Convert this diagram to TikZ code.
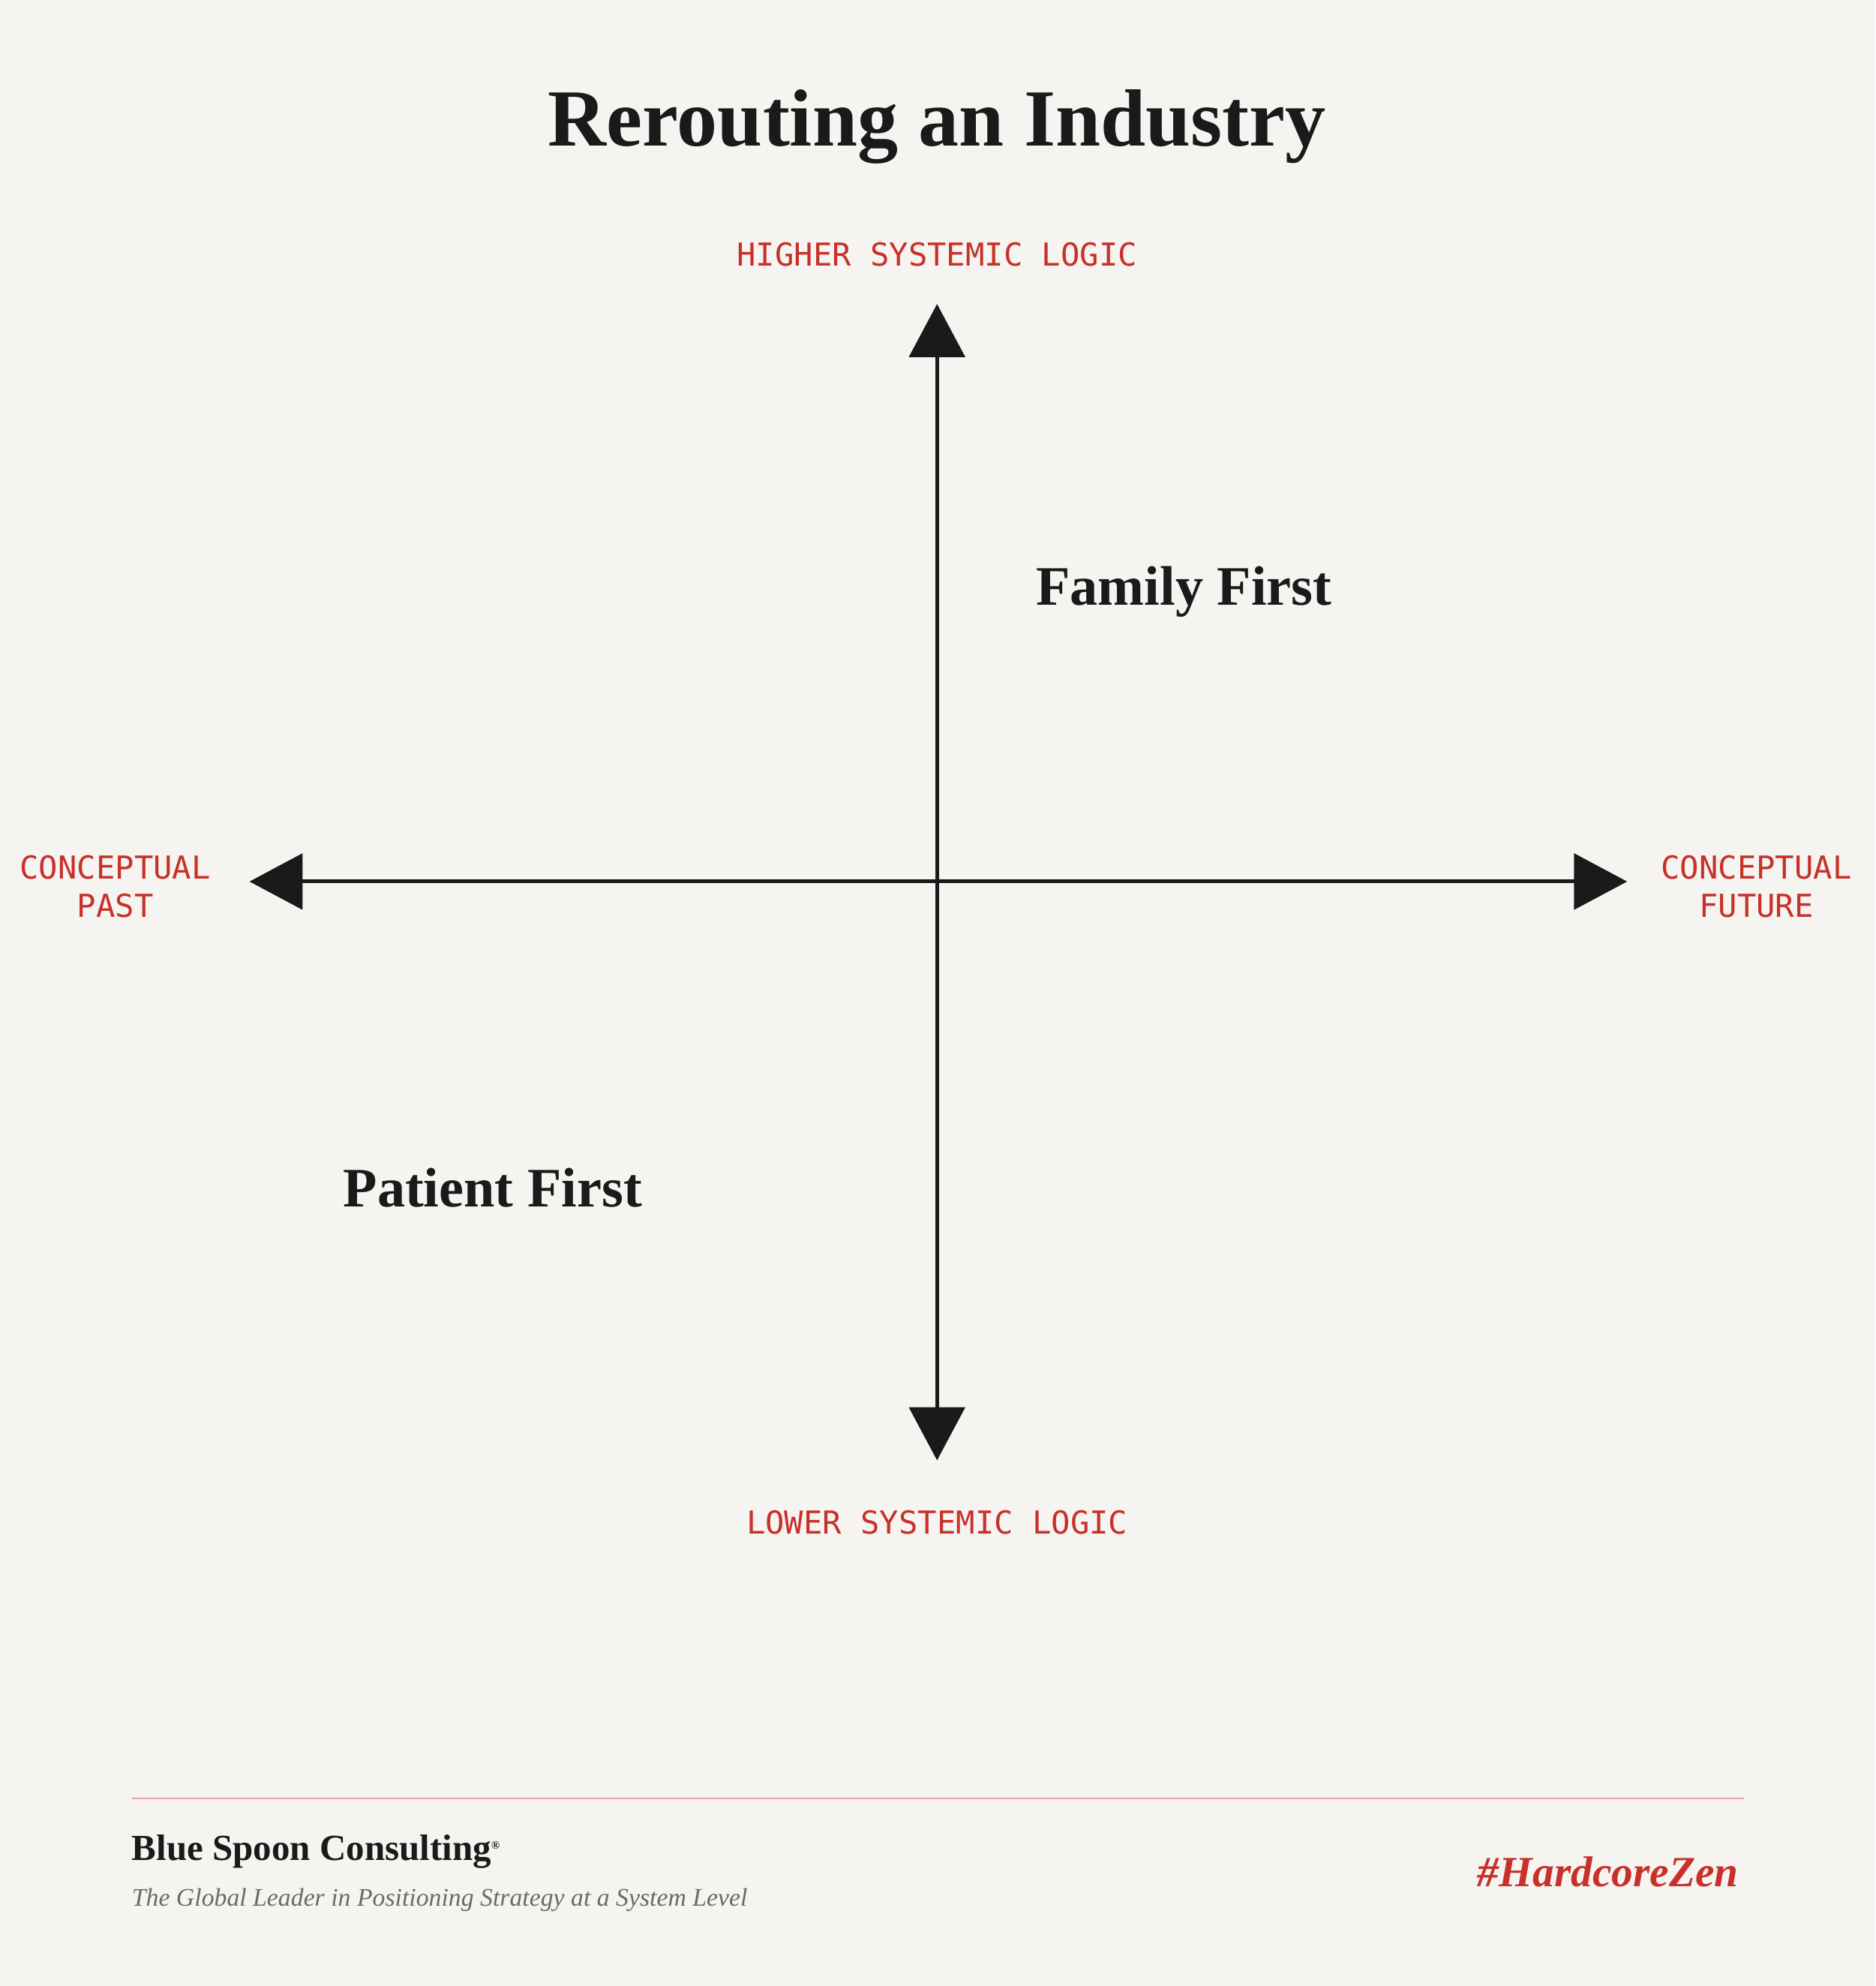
\documentclass[tikz,border=0pt]{standalone}
\usepackage{fontspec}
\setmainfont{Liberation Serif}
\setmonofont{DejaVu Sans Mono}
\usetikzlibrary{arrows.meta}
\definecolor{bg}{HTML}{F5F4F0}
\definecolor{ink}{HTML}{1A1A1A}
\definecolor{accent}{HTML}{C8302A}
\definecolor{rule}{HTML}{E8A0A0}
\definecolor{gray}{HTML}{6A6A6A}
\begin{document}
\begin{tikzpicture}[x=1pt,y=-1pt,
  axis/.style={draw=ink,line width=3pt,-{Triangle[length=42pt,width=44pt]}},
  lab/.style={text=accent,font=\fontsize{25}{30}\selectfont\ttfamily,align=center},
  quad/.style={text=ink,font=\fontsize{44}{50}\selectfont\bfseries}]
\fill[bg] (0,0) rectangle (1481,1568);
\useasboundingbox (0,0) rectangle (1481,1568);
\node[text=ink,font=\fontsize{64}{70}\selectfont\bfseries] (title) at (740,100) {Rerouting an Industry};
\coordinate (o) at (740,696);
\coordinate (top) at (740,240);
\coordinate (bot) at (740,1153);
\coordinate (lft) at (197,696);
\coordinate (rgt) at (1285,696);
\draw[axis] (o) -- (top);
\draw[axis] (o) -- (bot);
\draw[axis] (o) -- (lft);
\draw[axis] (o) -- (rgt);
\node[lab] (hi) at (740,201) {HIGHER SYSTEMIC LOGIC};
\node[lab] (lo) at (740,1202) {LOWER SYSTEMIC LOGIC};
\node[lab] (past) at (91,700) {CONCEPTUAL\\PAST};
\node[lab] (fut) at (1387,700) {CONCEPTUAL\\FUTURE};
\node[quad] (fam) at (935,467) {Family First};
\node[quad] (pat) at (389,938) {Patient First};
\coordinate (r1) at (104,1420);
\coordinate (r2) at (1377,1420);
\draw[rule,line width=1.5pt] (r1) -- (r2);
\node[anchor=west,text=ink,font=\fontsize{29}{32}\selectfont\bfseries,inner sep=0] (brand) at (104,1462) {Blue Spoon Consulting\textsuperscript{\small®}};
\node[anchor=west,text=gray,font=\fontsize{20}{24}\selectfont\itshape,inner sep=0] (tag) at (104,1500) {The Global Leader in Positioning Strategy at a System Level};
\node[anchor=east,text=accent,font=\fontsize{34}{38}\selectfont\bfseries\itshape,inner sep=0] (hz) at (1373,1478) {\#HardcoreZen};
\end{tikzpicture}
\end{document}
